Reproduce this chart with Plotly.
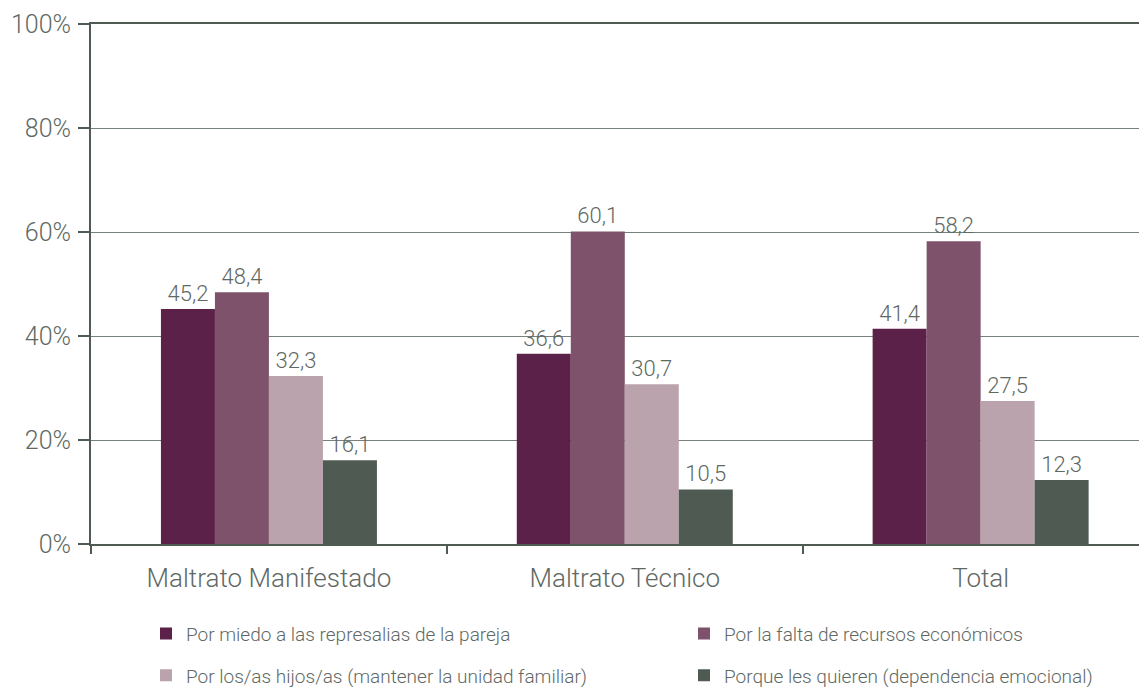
import plotly.graph_objects as go

categories = ["Maltrato Manifestado", "Maltrato Técnico", "Total"]
series_names = [
    "Por miedo a las represalias de la pareja",
    "Por la falta de recursos económicos",
    "Por los/as hijos/as (mantener la unidad familiar)",
    "Porque les quieren (dependencia emocional)",
]
values = [
    [45.2, 36.6, 41.4],
    [48.4, 60.1, 58.2],
    [32.3, 30.7, 27.5],
    [16.1, 10.5, 12.3],
]
colors = ["#5b2148", "#7e526b", "#bba3ad", "#4f5b52"]
legend_ids = ["legend", "legend2", "legend", "legend2"]
y_ticks = [0, 20, 40, 60, 80, 100]
y_ticklabels = ["0%", "20%", "40%", "60%", "80%", "100%"]

FONT = "Roboto"
TXT = "#5f6964"
AX = "#4f5b52"

fig = go.Figure()
for i, (name, vals) in enumerate(zip(series_names, values)):
    fig.add_trace(go.Bar(
        x=categories, y=vals, name=name,
        marker=dict(color=colors[i], line=dict(width=0)),
        text=[f"{v:.1f}".replace(".", ",") for v in vals],
        textposition="outside",
        textfont=dict(size=22, color=TXT, family=FONT, weight=300),
        cliponaxis=False,
        legend=legend_ids[i],
        legendgroup=f"g{i}",
    ))

legend_common = dict(
    orientation="v", yanchor="top", xanchor="left",
    font=dict(size=19, color=TXT, family=FONT, weight=300),
    bgcolor="rgba(0,0,0,0)", tracegroupgap=14,
    traceorder="grouped",
)

PL, PW = 83, 1064
fig.update_layout(
    width=1147, height=690,
    margin=dict(l=PL, r=0, t=16, b=154, autoexpand=False),
    paper_bgcolor="white", plot_bgcolor="white",
    barmode="group", bargap=0.393, bargroupgap=0,
    font=dict(family=FONT, color=TXT),
    showlegend=True,
    legend=dict(x=(146 - 8 - PL) / PW, y=-0.136, **legend_common),
    legend2=dict(x=(684 - 8 - PL) / PW, y=-0.136, **legend_common),
    xaxis=dict(
        range=[-0.5, 2.49],
        showline=True, linecolor=AX, linewidth=2, mirror=True,
        ticks="outside", tickson="boundaries", ticklen=8, tickwidth=2, tickcolor=AX,
        tickfont=dict(size=26, color=TXT, family=FONT, weight=300),
        ticklabelstandoff=10,
        showgrid=False,
    ),
    yaxis=dict(
        range=[0, 100], tickvals=y_ticks, ticktext=y_ticklabels,
        showline=True, linecolor=AX, linewidth=2,
        ticks="outside", ticklen=11, tickwidth=2, tickcolor=AX,
        tickfont=dict(size=25, color=TXT, family=FONT, weight=300),
        ticklabelstandoff=2,
        showgrid=True, gridcolor="#76817b", gridwidth=1,
        zeroline=False,
    ),
)

fig.write_html("out.html")
